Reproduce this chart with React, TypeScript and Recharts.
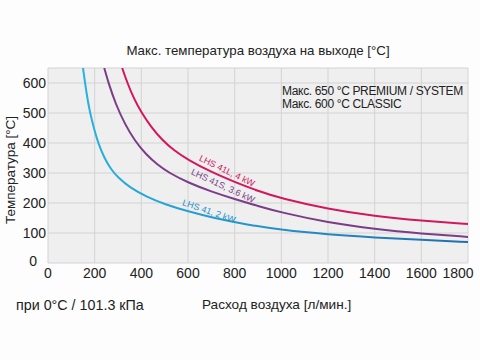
import React from 'react';
import { LineChart, Line, XAxis, YAxis, CartesianGrid, ReferenceDot } from 'recharts';

const xTicks = [0, 200, 400, 600, 800, 1000, 1200, 1400, 1600, 1800];
const yTicks = [0, 100, 200, 300, 400, 500, 600];

const lhs41Flow = [150, 165, 180, 200, 215, 240, 270, 300, 350, 424, 500, 600, 710, 853, 1000, 1200, 1400, 1600, 1800];
const lhs41Temp = [650, 565, 500, 440, 400, 352, 312, 285, 252, 220, 196, 172, 150, 128, 110, 95, 85, 77, 70];

const lhs41SFlow = [241, 260, 290, 330, 374, 420, 470, 520, 600, 700, 800, 900, 1000, 1200, 1400, 1600, 1800];
const lhs41STemp = [650, 598, 530, 462, 405, 362, 327, 300, 268, 238, 213, 190, 168, 135, 113, 98, 87];

const lhs41LFlow = [318, 340, 370, 400, 440, 489, 540, 600, 700, 800, 900, 1000, 1200, 1400, 1600, 1800];
const lhs41LTemp = [650, 600, 545, 502, 455, 410, 375, 344, 303, 270, 240, 215, 180, 156, 141, 130];

const seriesNames = ['LHS 41, 2 kW', 'LHS 41S, 3.6 kW', 'LHS 41L, 4 kW'];
const labelPos = [
  { x: 690, y: 173, angle: 19 },
  { x: 750, y: 257, angle: 25 },
  { x: 767, y: 307, angle: 26 },
];

const toRows = (xs: number[], ys: number[]) => xs.map((x, i) => ({ flow: x, temp: ys[i] }));
const blueData = toRows(lhs41Flow, lhs41Temp);
const purpleData = toRows(lhs41SFlow, lhs41STemp);
const magentaData = toRows(lhs41LFlow, lhs41LTemp);

const FONT = '"Liberation Sans", Arial, Helvetica, sans-serif';
const colors = ['#1f8ec8', '#7a3d86', '#d3175f'];

const curveLabel = (text: string, angle: number, color: string) => (props: any) => {
  const { cx, cy } = props;
  return (
    <text
      x={cx}
      y={cy}
      transform={`rotate(${angle}, ${cx}, ${cy})`}
      textAnchor="middle"
      dominantBaseline="central"
      fontSize={9}
      fill={color}
      fontFamily={FONT}
    >
      {text}
    </text>
  );
};

const XTick = (props: any) => {
  const { x, y, payload } = props;
  const dx = payload.value === 1800 ? -6 : 0;
  return (
    <text x={x + dx} y={y} dy="0.71em" textAnchor="middle" fontSize={14} fill="#222" fontFamily={FONT}>
      {payload.value}
    </text>
  );
};

const YTick = (props: any) => {
  const { x, y, payload } = props;
  const dx = payload.value === 0 ? -9 : 0;
  const dy = payload.value === 0 ? -2 : 0;
  return (
    <text x={x + dx} y={y + dy} dy="0.355em" textAnchor="end" fontSize={14} fill="#222" fontFamily={FONT}>
      {payload.value}
    </text>
  );
};

export default function App() {
  return (
    <div style={{ position: 'absolute', left: 0, top: 0, width: 480, height: 360, background: '#fdfdfd', fontFamily: FONT, color: '#222' }}>
      <LineChart width={480} height={360} margin={{ top: 68, right: 12, bottom: 67, left: 0 }}>
        <defs>
          <linearGradient id="blueGrad" x1="0" y1="0" x2="1" y2="0">
            <stop offset="0%" stopColor="#27b2de" />
            <stop offset="100%" stopColor="#1f6fae" />
          </linearGradient>
        </defs>
        <CartesianGrid fill="#efefef" stroke="#d3d3d3" strokeWidth={1} />
        <XAxis
          type="number"
          dataKey="flow"
          domain={[0, 1800]}
          ticks={xTicks}
          axisLine={false}
          tickLine={false}
          tickSize={0}
          tickMargin={5}
          height={30}
          allowDataOverflow
          tick={<XTick />}
        />
        <YAxis
          type="number"
          dataKey="temp"
          domain={[0, 650]}
          ticks={yTicks}
          axisLine={false}
          tickLine={false}
          tickSize={0}
          tickMargin={2}
          width={48}
          allowDataOverflow
          tick={<YTick />}
        />
        <Line data={blueData} dataKey="temp" type="basis" stroke="url(#blueGrad)" strokeWidth={2} dot={false} isAnimationActive={false} />
        <Line data={purpleData} dataKey="temp" type="basis" stroke={colors[1]} strokeWidth={2} dot={false} isAnimationActive={false} />
        <Line data={magentaData} dataKey="temp" type="basis" stroke={colors[2]} strokeWidth={2} dot={false} isAnimationActive={false} />
        {labelPos.map((p, i) => (
          <ReferenceDot key={i} x={p.x} y={p.y} r={0} shape={curveLabel(seriesNames[i], p.angle, colors[i])} />
        ))}
      </LineChart>
      <div style={{ position: 'absolute', left: 0, width: 516, top: 43, textAlign: 'center', fontSize: 13.3 }}>
        Макс. температура воздуха на выходе [°C]
      </div>
      <div style={{ position: 'absolute', left: 282, top: 85, fontSize: 12, lineHeight: '13px', letterSpacing: '-0.35px' }}>
        Макс. 650 °C PREMIUM / SYSTEM
        <br />
        Макс. 600 °C CLASSIC
      </div>
      <div style={{ position: 'absolute', left: 10, top: 170, width: 0, height: 0 }}>
        <div style={{ position: 'absolute', transform: 'translate(-50%, -50%) rotate(-90deg)', whiteSpace: 'nowrap', fontSize: 13.5 }}>
          Температура [°C]
        </div>
      </div>
      <div style={{ position: 'absolute', left: 16, top: 297, fontSize: 14.3, whiteSpace: 'nowrap' }}>
        при 0°C / 101.3 кПа
      </div>
      <div style={{ position: 'absolute', left: 202, top: 297, fontSize: 13.6, whiteSpace: 'nowrap' }}>
        Расход воздуха [л/мин.]
      </div>
    </div>
  );
}
